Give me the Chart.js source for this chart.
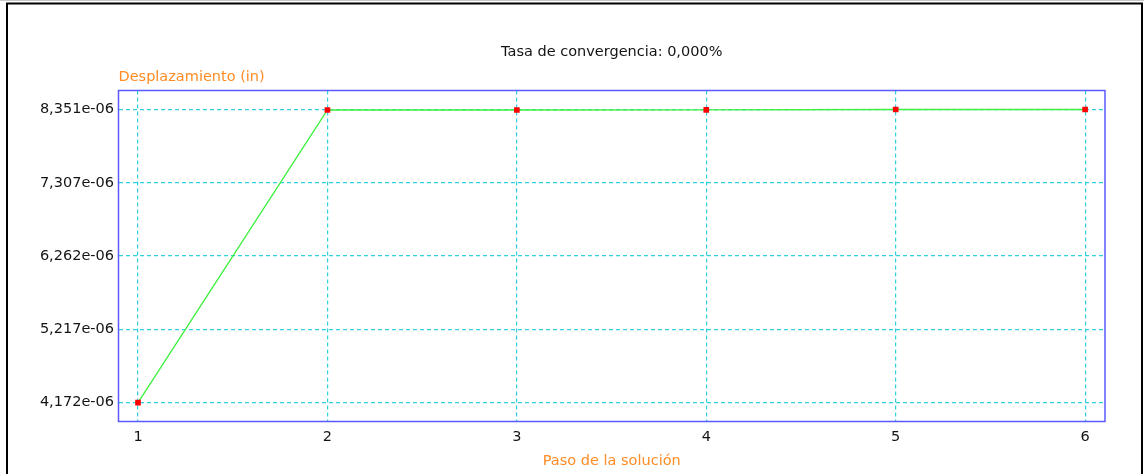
<!DOCTYPE html>
<html lang="es">
<head>
<meta charset="utf-8">
<title>Tasa de convergencia</title>
<script src="https://cdn.jsdelivr.net/npm/chart.js@4.4.1/dist/chart.umd.min.js"></script>
<style>
  html, body { margin: 0; padding: 0; background: #ffffff; }
  #wrap { position: relative; width: 1144px; height: 474px; }
  canvas { display: block; }
</style>
</head>
<body>
<div id="wrap"><canvas id="grafico" width="1144" height="474"></canvas></div>
<script>
// Paso de la solución (eje X)
const pasos = [1, 2, 3, 4, 5, 6];
// Desplazamiento en pulgadas por paso
const desplazamiento = [4.172e-6, 8.344e-6, 8.344e-6, 8.345e-6, 8.351e-6, 8.351e-6];
// Marcas del eje Y y sus etiquetas
const marcasY = [4.172e-6, 5.217e-6, 6.262e-6, 7.307e-6, 8.351e-6];
const etiquetasY = ['4,172e-06', '5,217e-06', '6,262e-06', '7,307e-06', '8,351e-06'];
// Marcas del eje X
const marcasX = [1, 2, 3, 4, 5, 6];

const titulo = 'Tasa de convergencia: 0,000%';
const tituloY = 'Desplazamiento (in)';
const tituloX = 'Paso de la solución';

const FUENTE = '"DejaVu Sans", Verdana, sans-serif';
const TAM = 14.5;
const NARANJA = '#ff8c26';
const CIAN = '#30d0e0';
const AZUL = '#5a5aff';

// Marco exterior, borde del área de trazado y título del eje Y
const marco = {
  id: 'marco',
  beforeDatasetsDraw(chart) {
    const { ctx, chartArea: a } = chart;
    ctx.save();
    ctx.strokeStyle = AZUL;
    ctx.lineWidth = 1.5;
    ctx.strokeRect(a.left, a.top, a.right - a.left, a.bottom - a.top);
    ctx.restore();
  },
  afterDraw(chart) {
    const { ctx, chartArea: a } = chart;
    ctx.save();
    ctx.strokeStyle = '#c8c8c8';
    ctx.lineWidth = 1;
    ctx.beginPath(); ctx.moveTo(0, 0.5); ctx.lineTo(1144, 0.5); ctx.stroke();
    ctx.strokeStyle = '#000000';
    ctx.lineWidth = 2;
    ctx.beginPath();
    ctx.moveTo(7, 474); ctx.lineTo(7, 3.5); ctx.lineTo(1142, 3.5); ctx.lineTo(1142, 474);
    ctx.stroke();
    ctx.fillStyle = NARANJA;
    ctx.font = TAM + 'px ' + FUENTE;
    ctx.textAlign = 'left';
    ctx.textBaseline = 'middle';
    ctx.fillText(tituloY, a.left, 77);
    ctx.restore();
  }
};

new Chart(document.getElementById('grafico'), {
  type: 'line',
  data: {
    datasets: [{
      data: pasos.map((p, i) => ({ x: p, y: desplazamiento[i] })),
      borderColor: '#3cf03c',
      borderWidth: 1.3,
      backgroundColor: '#ff0000',
      pointBackgroundColor: '#ff0000',
      pointBorderWidth: 0,
      pointStyle: 'rect',
      pointRadius: 4,
      tension: 0,
      fill: false
    }]
  },
  options: {
    responsive: false,
    animation: false,
    layout: { padding: { left: 0, top: 0, right: 39, bottom: 0 } },
    plugins: {
      legend: { display: false },
      tooltip: { enabled: false },
      title: {
        display: true,
        text: titulo,
        fullSize: false,
        color: '#141414',
        font: { family: FUENTE, size: TAM, weight: 'normal' },
        padding: { top: 43.3, bottom: 29.8 }
      }
    },
    scales: {
      x: {
        type: 'linear',
        min: 0.897,
        max: 6.105,
        afterBuildTicks: s => { s.ticks = marcasX.map(v => ({ value: v })); },
        afterFit: s => { s.height = 52.5; },
        ticks: {
          color: '#141414',
          padding: 6.8,
          font: { family: FUENTE, size: TAM },
          callback: v => String(v)
        },
        grid: { color: CIAN, drawTicks: false, lineWidth: 1.2 },
        border: { display: false, dash: [4, 3] },
        title: {
          display: true,
          text: tituloX,
          color: NARANJA,
          font: { family: FUENTE, size: TAM },
          padding: { top: 0, bottom: 4.3 }
        }
      },
      y: {
        type: 'linear',
        min: 3.904e-6,
        max: 8.622e-6,
        afterBuildTicks: s => { s.ticks = marcasY.map(v => ({ value: v })); },
        afterFit: s => { s.width = 118.5; },
        ticks: {
          color: '#141414',
          padding: 4.5,
          font: { family: FUENTE, size: TAM },
          callback: (v, i) => etiquetasY[i]
        },
        grid: { color: CIAN, drawTicks: false, lineWidth: 1.2 },
        border: { display: false, dash: [4, 3] }
      }
    }
  },
  plugins: [marco]
});
</script>
</body>
</html>
